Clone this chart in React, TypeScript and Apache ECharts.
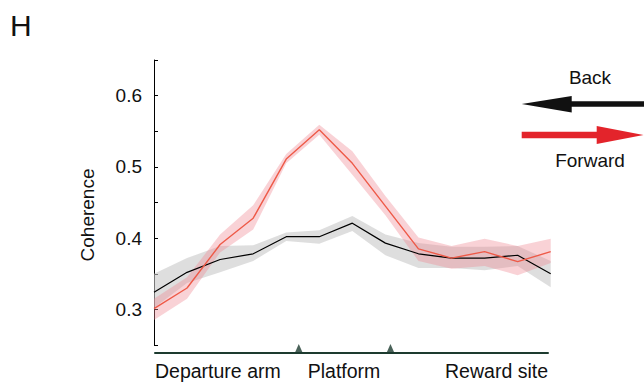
import React, { useEffect, useRef } from "react";
import * as echarts from "echarts";

const positions = ["0", "1", "2", "3", "4", "5", "6", "7", "8", "9", "10", "11", "12"];
const backMean = [0.324, 0.352, 0.37, 0.378, 0.402, 0.402, 0.421, 0.393, 0.378, 0.372, 0.372, 0.376, 0.35];
const backUpper = [0.35, 0.372, 0.389, 0.39, 0.408, 0.411, 0.431, 0.405, 0.393, 0.388, 0.388, 0.389, 0.368];
const backLower = [0.302, 0.337, 0.352, 0.368, 0.396, 0.392, 0.41, 0.376, 0.358, 0.358, 0.355, 0.361, 0.331];
const fwdMean = [0.301, 0.33, 0.391, 0.428, 0.511, 0.552, 0.505, 0.445, 0.385, 0.372, 0.381, 0.367, 0.381];
const fwdUpper = [0.315, 0.345, 0.405, 0.446, 0.518, 0.559, 0.522, 0.459, 0.401, 0.389, 0.399, 0.389, 0.399];
const fwdLower = [0.285, 0.315, 0.38, 0.412, 0.505, 0.545, 0.489, 0.432, 0.368, 0.357, 0.361, 0.348, 0.365];
const markerPositions = [4.39, 7.19];
const yTickLabels = [0.3, 0.4, 0.5, 0.6];
const regionLabels = ["Departure arm", "Platform", "Reward site"];

const FONT = "'Liberation Sans', Arial, Helvetica, sans-serif";

export default function App() {
  const ref = useRef<HTMLDivElement>(null);
  useEffect(() => {
    if (!ref.current) return;
    const chart = echarts.init(ref.current, null, { renderer: "svg" });
    const diff = (a: number[], b: number[]) => a.map((v, i) => v - b[i]);
    const bandBase = (stack: string, lower: number[]) => ({
      type: "line",
      stack,
      data: lower,
      symbol: "none",
      lineStyle: { opacity: 0 },
      silent: true,
      z: 1,
    });
    const bandFill = (stack: string, upper: number[], lower: number[], color: string, opacity: number) => ({
      type: "line",
      stack,
      data: diff(upper, lower),
      symbol: "none",
      lineStyle: { opacity: 0 },
      areaStyle: { color, opacity },
      silent: true,
      z: 1,
    });
    const option: any = {
      animation: false,
      grid: [
        { left: 154, top: 60, width: 396.7, height: 285, containLabel: false },
        { left: 155, top: 343, width: 393, height: 10, containLabel: false },
      ],
      xAxis: [
        { type: "category", gridIndex: 0, data: positions, boundaryGap: false, show: false },
        {
          type: "value",
          gridIndex: 1,
          min: 0,
          max: 12,
          axisLine: { show: true, lineStyle: { color: "#1d3b2f", width: 2 } },
          axisTick: { show: false },
          axisLabel: { show: false },
          splitLine: { show: false },
        },
      ],
      yAxis: [
        {
          type: "value",
          gridIndex: 0,
          min: 0.25,
          max: 0.65,
          interval: 0.05,
          axisLine: { show: true, lineStyle: { color: "#000", width: 1 } },
          axisTick: { show: true, inside: true, length: 4, lineStyle: { color: "#000" } },
          splitLine: { show: false },
          axisLabel: {
            margin: 12,
            fontSize: 19,
            fontFamily: FONT,
            color: "#111",
            formatter: (v: number) => {
              const r = Math.round(v * 100);
              const match = yTickLabels.find((t) => Math.round(t * 100) === r);
              return match !== undefined ? match.toFixed(1) : "";
            },
          },
        },
        { type: "value", gridIndex: 1, min: 0, max: 1, show: false },
      ],
      series: [
        bandBase("back", backLower),
        bandFill("back", backUpper, backLower, "#c8c8c8", 0.6),
        bandBase("fwd", fwdLower),
        bandFill("fwd", fwdUpper, fwdLower, "#f08a92", 0.38),
        {
          type: "line",
          data: backMean,
          symbol: "none",
          lineStyle: { color: "#000", width: 1.2 },
          z: 3,
        },
        {
          type: "line",
          data: fwdMean,
          symbol: "none",
          lineStyle: { color: "#ee5a48", width: 1.4 },
          z: 4,
        },
        {
          type: "scatter",
          xAxisIndex: 1,
          yAxisIndex: 1,
          data: markerPositions.map((p) => [p, 0]),
          symbol: "triangle",
          symbolSize: [8, 9],
          symbolOffset: [0, -4.5],
          itemStyle: { color: "#1d3b2f" },
          silent: true,
          z: 5,
        },
      ],
      graphic: [
        {
          type: "text",
          left: 10,
          top: 10,
          style: { text: "H", fontSize: 30, fontFamily: FONT, fill: "#111" },
        },
        {
          type: "text",
          x: 87,
          y: 215,
          rotation: Math.PI / 2,
          style: {
            text: "Coherence",
            fontSize: 19,
            fontFamily: FONT,
            fill: "#111",
            align: "center",
            verticalAlign: "middle",
          },
        },
        {
          type: "text",
          x: 155,
          y: 371,
          style: { text: regionLabels[0], fontSize: 19.5, fontFamily: FONT, fill: "#111", align: "left", verticalAlign: "middle" },
        },
        {
          type: "text",
          x: 344,
          y: 371,
          style: { text: regionLabels[1], fontSize: 19.5, fontFamily: FONT, fill: "#111", align: "center", verticalAlign: "middle" },
        },
        {
          type: "text",
          x: 548,
          y: 371,
          style: { text: regionLabels[2], fontSize: 19.5, fontFamily: FONT, fill: "#111", align: "right", verticalAlign: "middle" },
        },
        {
          type: "text",
          x: 590,
          y: 77,
          style: { text: "Back", fontSize: 19, fontFamily: FONT, fill: "#111", align: "center", verticalAlign: "middle" },
        },
        {
          type: "text",
          x: 590,
          y: 160,
          style: { text: "Forward", fontSize: 19, fontFamily: FONT, fill: "#111", align: "center", verticalAlign: "middle" },
        },
        {
          type: "polygon",
          shape: {
            points: [
              [521.7, 104],
              [571.7, 96],
              [571.7, 101.2],
              [644, 101.2],
              [644, 106.8],
              [571.7, 106.8],
              [571.7, 112.5],
            ],
          },
          style: { fill: "#111" },
        },
        {
          type: "polygon",
          shape: {
            points: [
              [521.7, 131.8],
              [596.7, 131.8],
              [596.7, 126],
              [643.5, 135],
              [596.7, 144],
              [596.7, 138.3],
              [521.7, 138.3],
            ],
          },
          style: { fill: "#e3242b" },
        },
      ],
    };
    chart.setOption(option);
    return () => chart.dispose();
  }, []);
  return (
    <div
      ref={ref}
      style={{ position: "absolute", left: 0, top: 0, width: 644, height: 383, background: "#fff" }}
    />
  );
}
